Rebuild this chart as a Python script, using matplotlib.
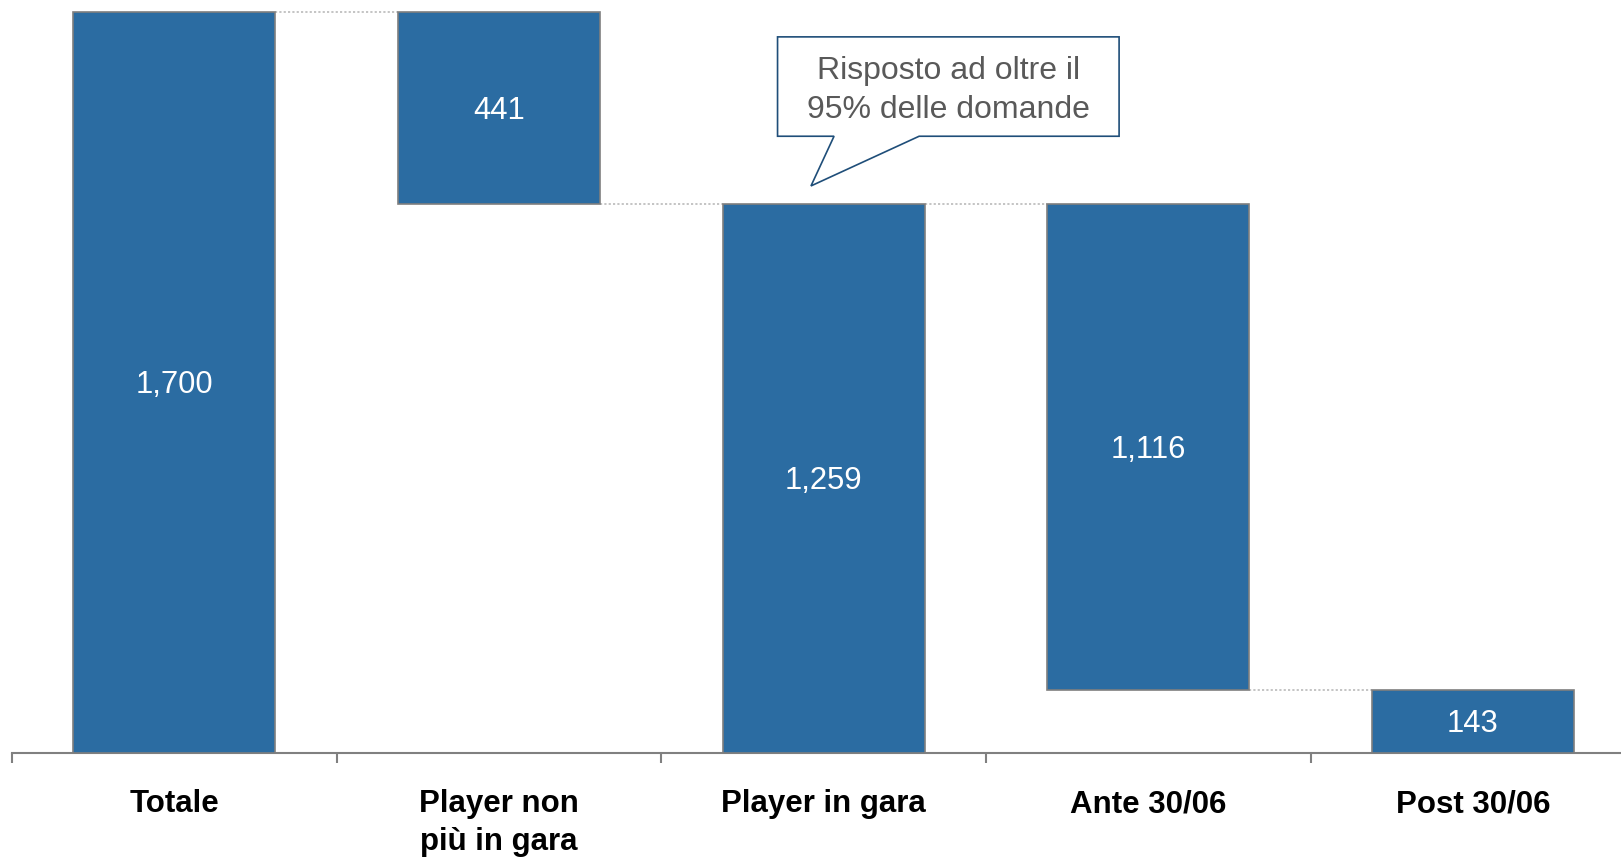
import matplotlib
matplotlib.use("Agg")
import matplotlib.pyplot as plt
from matplotlib.patches import Polygon
from matplotlib.transforms import ScaledTranslation

# ---- data ----
categories = ["Totale", "Player non\npiù in gara", "Player in gara", "Ante 30/06", "Post 30/06"]
values = [1700, 441, 1259, 1116, 143]
kinds = ["total", "delta", "total", "delta", "delta"]
callout_text = "Risposto ad oltre il\n95% delle domande"

# ---- style ----
BAR_COLOR = "#2B6CA2"
EDGE_COLOR = "#7F7F7F"
CONN_COLOR = "#BFBFBF"
AXIS_COLOR = "#808080"
CALLOUT_EDGE = "#1F4E79"
CALLOUT_TEXT = "#595959"
FONT = ["Liberation Sans", "DejaVu Sans"]
plt.rcParams["font.family"] = FONT

W, H = 1621, 857
fig = plt.figure(figsize=(W / 100, H / 100), dpi=100)
ax = fig.add_axes([12.0 / W, (H - 752.5) / H, 1623.3 / W, 740.9 / H])

bar_w = 0.622
x = list(range(len(values)))

# waterfall bottoms
bottoms = []
levels = []
running = 0
for v, k in zip(values, kinds):
    if k == "total":
        bottoms.append(0)
        running = v
    else:
        running = running - v
        bottoms.append(running)
    levels.append(running if k == "delta" else v)

bars = ax.bar(x, values, bottom=bottoms, width=bar_w, color=BAR_COLOR,
              edgecolor=EDGE_COLOR, linewidth=1.2, zorder=3)
for b in bars:
    b.set_clip_on(False)

# connectors
for i in range(len(values) - 1):
    lvl = levels[i]
    ax.plot([i + bar_w / 2, i + 1 - bar_w / 2], [lvl, lvl], color=CONN_COLOR,
            linewidth=1.3, linestyle=(0, (1.2, 1.2)), zorder=2, clip_on=False)

# value labels
down = ax.transData + ScaledTranslation(0, -3 / 100, fig.dpi_scale_trans)
for i, (v, b0) in enumerate(zip(values, bottoms)):
    ax.text(i, b0 + v / 2, f"{v:,}", ha="center", va="center", color="white",
            fontsize=22.3, zorder=4, transform=down)

ax.set_xlim(-0.5, 4.5)
ax.set_ylim(0, 1700)

for s in ["top", "left", "right"]:
    ax.spines[s].set_visible(False)
ax.spines["bottom"].set_color(AXIS_COLOR)
ax.spines["bottom"].set_linewidth(1.5)
ax.set_yticks([])

ax.set_xticks(x)
ax.set_xticklabels(categories, fontsize=22.5, fontweight="bold", color="black")
for lab in ax.get_xticklabels():
    lab.set_linespacing(1.32)
ax.set_xticks([i - 0.5 for i in range(len(values) + 1)], minor=True)
ax.tick_params(axis="x", which="major", length=0, pad=26.5)
ax.tick_params(axis="x", which="minor", length=7.2, width=1.5, color=AXIS_COLOR)

# callout (speech bubble) anchored to "Player in gara" bar
bx0, bx1 = 1.858, 2.910
by0, by1 = 1414, 1642
tail = [(2.294, by0), (1.961, 1300), (2.032, by0)]
verts = [(bx0, by1), (bx1, by1), (bx1, by0)] + tail + [(bx0, by0)]
poly = Polygon(verts, closed=True, facecolor="white", edgecolor=CALLOUT_EDGE,
               linewidth=1.2, zorder=5, clip_on=False)
ax.add_patch(poly)
ax.text((bx0 + bx1) / 2, 1519, callout_text, ha="center", va="center",
        color=CALLOUT_TEXT, fontsize=23, linespacing=1.37, zorder=6)

fig.savefig("out.png", dpi=100)
